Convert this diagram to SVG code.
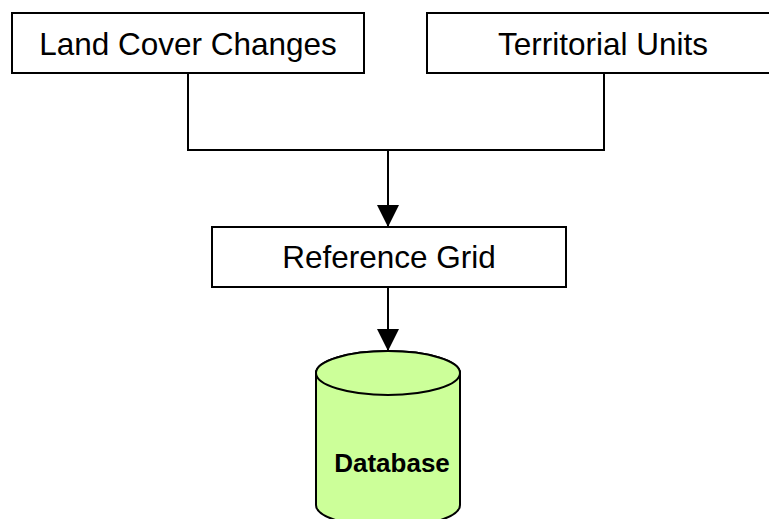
<svg xmlns="http://www.w3.org/2000/svg" width="769" height="519" viewBox="0 0 769 519">
  <defs>
    <style>
      .box { fill: #ffffff; stroke: #000000; stroke-width: 2; }
      .lbl { font-family: "Liberation Sans", Arial, sans-serif; font-size: 31.5px; fill: #000000; text-anchor: middle; }
      .conn { fill: none; stroke: #000000; stroke-width: 2; }
      .db { fill: #ccff99; stroke: #000000; stroke-width: 2; }
      .dbl { font-family: "Liberation Sans", Arial, sans-serif; font-size: 26px; font-weight: bold; fill: #000000; text-anchor: middle; }
    </style>
    <marker id="arrow" viewBox="0 0 22 22" refX="22" refY="11" markerWidth="22" markerHeight="22" markerUnits="userSpaceOnUse" orient="auto">
      <path d="M0,0 L22,11 L0,22 Z" fill="#000000"/>
    </marker>
  </defs>
  <g id="connectors">
    <polyline class="conn" points="188,73 188,150 604,150 604,73"/>
    <line class="conn" x1="388" y1="150" x2="388" y2="227" marker-end="url(#arrow)"/>
    <line class="conn" x1="388" y1="287" x2="388" y2="351" marker-end="url(#arrow)"/>
  </g>
  <g id="land-cover-changes">
    <rect class="box" x="12" y="13" width="352" height="60"/>
    <text class="lbl" x="188" y="55">Land Cover Changes</text>
  </g>
  <g id="territorial-units">
    <rect class="box" x="427" y="13" width="353" height="60"/>
    <text class="lbl" x="603" y="55">Territorial Units</text>
  </g>
  <g id="reference-grid">
    <rect class="box" x="212" y="227" width="354" height="60"/>
    <text class="lbl" x="389" y="268">Reference Grid</text>
  </g>
  <g id="database">
    <path class="db" d="M316,373 L316,505 A72,22 0 0 0 460,505 L460,373 A72,22 0 0 0 316,373 Z"/>
    <ellipse class="db" cx="388" cy="373" rx="72" ry="22"/>
    <text class="dbl" x="392" y="472">Database</text>
  </g>
</svg>
